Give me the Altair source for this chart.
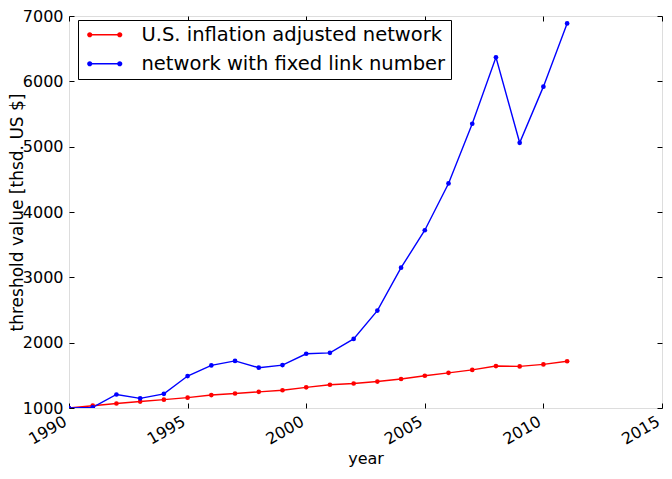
import altair as alt
import pandas as pd

years = list(range(1990, 2012))
inflation_adjusted = [1000, 1035, 1069, 1099, 1128, 1158, 1198, 1222, 1247, 1272, 1316,
                      1356, 1375, 1405, 1444, 1494, 1538, 1583, 1642, 1637, 1667, 1716]
fixed_link = [1000, 1010, 1207, 1148, 1217, 1489, 1652, 1721, 1617, 1657, 1830,
              1844, 2057, 2491, 3148, 3721, 4437, 5351, 6368, 5059, 5919, 6886]
series_names = ["U.S. inflation adjusted network", "network with fixed link number"]
series_colors = ["#ff0000", "#0000ff"]
x_ticks = [1990, 1995, 2000, 2005, 2010, 2015]
y_ticks = [1000, 2000, 3000, 4000, 5000, 6000, 7000]

rows = []
for name, vals in zip(series_names, [inflation_adjusted, fixed_link]):
    for yr, v in zip(years, vals):
        rows.append({"year": yr, "value": v, "series": name})
df = pd.DataFrame(rows)

FONT = "DejaVu Sans"
W, H = 593, 392

x_enc = alt.X(
    "year:Q",
    scale=alt.Scale(domain=[1990, 2015], nice=False, zero=False),
    axis=alt.Axis(
        values=x_ticks, format="d", title="year",
        labelAngle=330, labelAlign="right", labelBaseline="top",
        labelPadding=5, labelOffset=-8, ticks=False, tickSize=0, domain=False,
        grid=True, gridColor="black", gridWidth=1, gridOpacity=1,
        gridDash=[5, H - 10, 5, 1000],
        labelFont=FONT, labelFontSize=16, labelColor="black",
        labelOverlap=False, labelFlush=False, labelBound=False,
        titleFont=FONT, titleFontSize=16, titleFontWeight="normal",
        titleColor="black", titlePadding=3,
    ),
)
y_enc = alt.Y(
    "value:Q",
    scale=alt.Scale(domain=[1000, 7000], nice=False, zero=False),
    axis=alt.Axis(
        values=y_ticks, format="d", title="threshold value [thsd. US $]",
        labelPadding=6, ticks=False, tickSize=0, domain=False,
        grid=True, gridColor="black", gridWidth=1, gridOpacity=1,
        gridDash=[5, W - 10, 5, 1000],
        labelFont=FONT, labelFontSize=16, labelColor="black",
        labelOverlap=False, labelFlush=False, labelBound=False,
        titleFont=FONT, titleFontSize=17, titleFontWeight="normal",
        titleColor="black", titleAngle=270, titleAlign="center",
        titleBaseline="middle", titleX=-52, titleY=H / 2,
    ),
)

SYMBOL = ("M-3,-0.14L3,-0.14L3,0.14L-3,0.14Z"
          "M-3.52,0A0.52,0.52 0 1,1 -2.48,0A0.52,0.52 0 1,1 -3.52,0Z"
          "M2.48,0A0.52,0.52 0 1,1 3.52,0A0.52,0.52 0 1,1 2.48,0Z")

lines = alt.Chart(df).mark_line(strokeWidth=1.4, clip=True).encode(
    x=x_enc,
    y=y_enc,
    stroke=alt.Stroke("series:N",
                      scale=alt.Scale(domain=series_names, range=series_colors),
                      legend=None),
)

points = alt.Chart(df).mark_point(filled=True, size=22, opacity=1, clip=True).encode(
    x=x_enc,
    y=y_enc,
    color=alt.Color(
        "series:N",
        scale=alt.Scale(domain=series_names, range=series_colors),
        legend=alt.Legend(
            title=None, orient="none", legendX=9, legendY=4, direction="vertical",
            symbolType=SYMBOL, symbolSize=100, symbolStrokeWidth=0, symbolOpacity=1,
            symbolOffset=12, labelOffset=27, rowPadding=8, padding=5,
            labelFont=FONT, labelFontSize=19.5, labelColor="black", labelLimit=0,
            strokeColor="black", fillColor="white", cornerRadius=0,
        ),
    ),
)

chart = alt.layer(lines, points).resolve_scale(color="independent").properties(
    width=W, height=H,
    autosize=alt.AutoSizeParams(type="none"),
    padding={"left": 61, "top": 8, "right": 2, "bottom": 59},
).configure_view(stroke="black", strokeWidth=1).configure(background="white")

chart.save("out.html", embed_options={"renderer": "svg", "actions": False})
